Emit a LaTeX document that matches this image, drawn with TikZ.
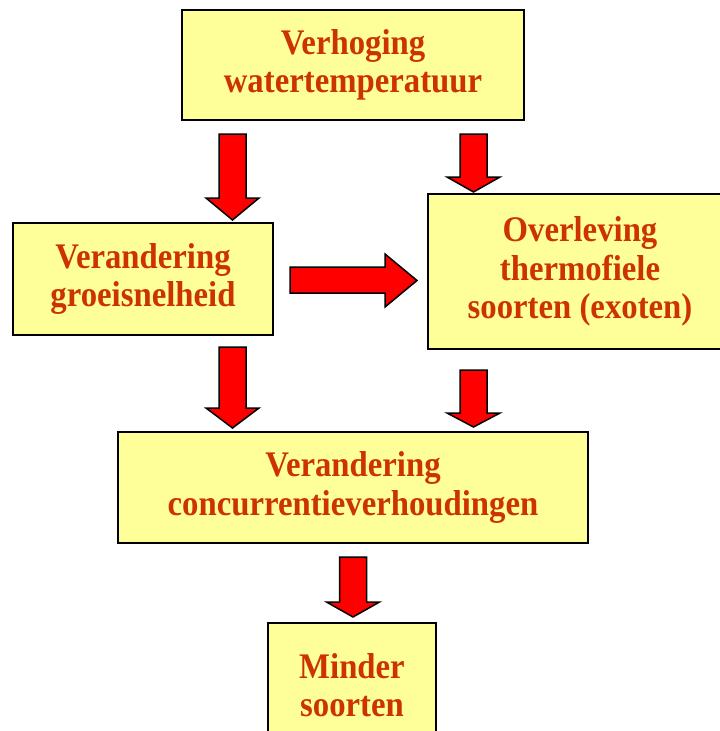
\documentclass[tikz,border=0pt]{standalone}
\usepackage{fontspec}
\setmainfont{Liberation Serif}[FakeStretch=0.91]
\definecolor{boxfill}{HTML}{FFFF99}
\definecolor{txtcol}{HTML}{CC3300}
\definecolor{arrcol}{HTML}{FF0000}
\newcommand\vArrow[4]{%
  \draw[blockarrow] (#1-13.5,#2) -- (#1+13.5,#2) -- (#1+13.5,#3) -- (#1+26.5,#3) -- (#1,#4) -- (#1-26.5,#3) -- (#1-13.5,#3) -- cycle;}
\begin{document}
\begin{tikzpicture}[x=1pt,y=-1pt,
  box/.style={draw=black, line width=2pt, fill=boxfill, inner sep=0pt, align=center,
    text=txtcol, font=\fontsize{36}{38.5}\selectfont\bfseries},
  blockarrow/.style={draw=black, line width=1.5pt, fill=arrcol, line join=miter}]
\useasboundingbox (0,0) rectangle (720,731);
\clip (0,0) rectangle (720,731);
\fill[white] (0,0) rectangle (720,731);
\node[box, minimum width=342pt, minimum height=110pt] (top) at (353,65) {Verhoging\\watertemperatuur};
\node[box, minimum width=260pt, minimum height=112pt] (grow) at (143,279) {Verandering\\groeisnelheid};
\node[box, minimum width=304pt, minimum height=155pt] (surv) at (580,271.5) {Overleving\\thermofiele\\soorten (exoten)};
\node[box, minimum width=470pt, minimum height=111pt] (comp) at (353,487.5) {Verandering\\concurrentieverhoudingen};
\node[box, minimum width=168pt, minimum height=124pt] (less) at (352,685) {Minder\\soorten};
\vArrow{232.5}{134}{198}{220}
\vArrow{473.5}{134}{177}{192}
\vArrow{232.5}{347}{408}{428}
\vArrow{473.5}{370}{413}{427}
\vArrow{353}{557}{602}{617}
\draw[blockarrow] (290,267) -- (385,267) -- (385,254) -- (417,280.5) -- (385,307) -- (385,293) -- (290,293) -- cycle;
\end{tikzpicture}
\end{document}
